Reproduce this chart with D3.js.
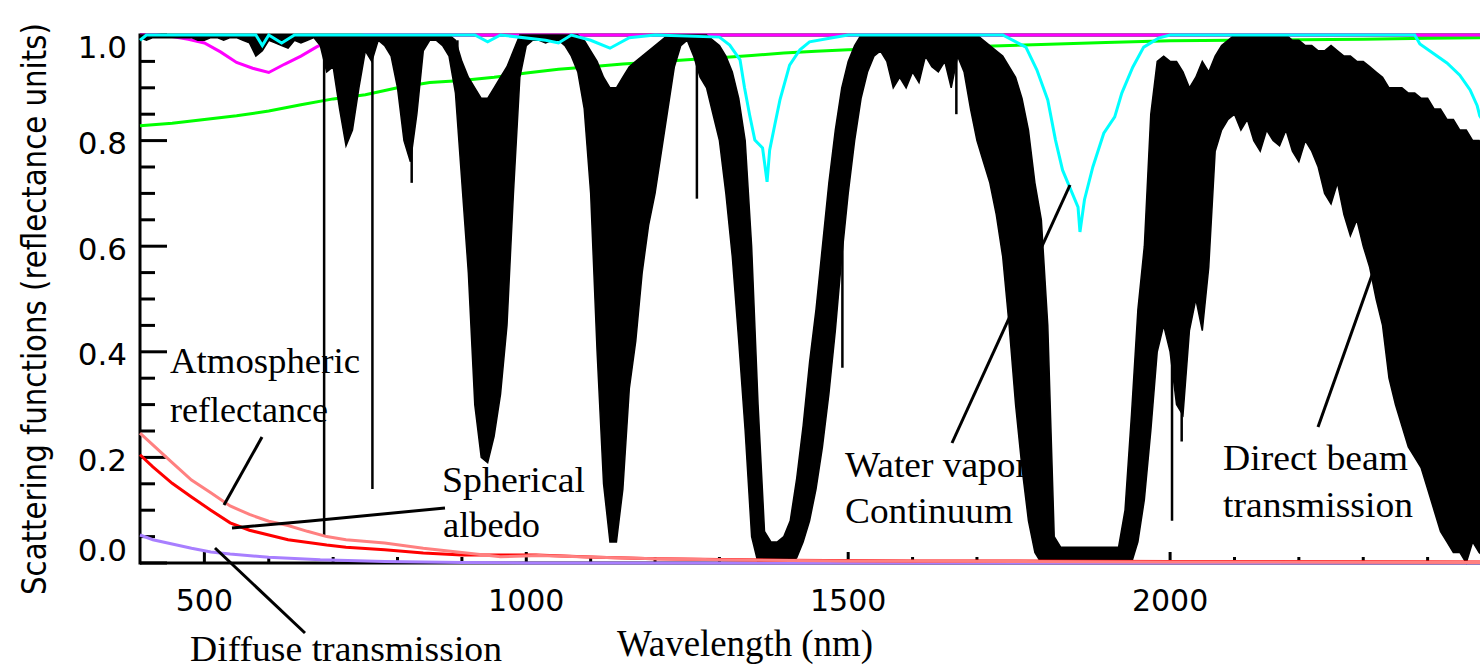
<!DOCTYPE html>
<html>
<head>
<meta charset="utf-8">
<script src="https://cdn.jsdelivr.net/npm/d3@7/dist/d3.min.js"></script>
<style>
  body { margin: 0; background: #fff; }
  svg { display: block; }
</style>
</head>
<body>
<div id="chart"></div>
<script>
// direct beam transmission, read as upper / lower envelope every 10 nm from 400 nm
var beamStart = 400, beamStep = 10;
var beamTop = [
  1,1,1,1,1,1,1,1,1,1,
  1,1,1,1,1,1,1,1,1,1,
  1,1,1,1,1,1,1,1,1,1,
  1,1,1,1,1,1,1,1,1,1,
  1,1,1,1,1,1,1,1,1,0.99,
  0.95,0.92,0.90,0.88,0.88,0.90,0.92,0.94,0.97,1,
  1,1,1,1,1,1,1,1,1,0.99,
  0.97,0.95,0.92,0.90,0.90,0.92,0.94,0.95,0.96,0.97,
  0.98,0.99,1,1,1,1,1,1,1,0.99,
  0.98,0.96,0.93,0.88,0.80,0.60,0.30,0.06,0.04,0.04,
  0.05,0.08,0.16,0.26,0.38,0.48,0.60,0.72,0.82,0.90,
  0.95,0.98,1,1,1,1,1,1,1,1,
  1,1,1,1,1,1,1,1,1,1,
  1,0.99,0.98,0.97,0.96,0.94,0.92,0.88,0.82,0.72,
  0.65,0.45,0.05,0.03,0.03,0.03,0.03,0.03,0.03,0.03,
  0.03,0.03,0.03,0.10,0.28,0.48,0.60,0.85,0.95,0.96,
  0.95,0.95,0.93,0.90,0.92,0.95,0.93,0.96,0.98,0.99,
  1,1,1,1,1,1,1,1,1,0.99,
  0.99,0.98,0.98,0.97,0.97,0.98,0.97,0.96,0.96,0.95,
  0.95,0.94,0.93,0.92,0.90,0.90,0.90,0.89,0.89,0.88,
  0.88,0.86,0.86,0.84,0.84,0.82,0.82,0.80,0.80,0.78,0.78
];
var beamLow = [
  0.995,0.99,0.995,0.995,0.995,0.995,0.995,0.995,0.995,0.99,
  0.99,0.995,0.995,0.99,0.995,0.995,0.99,0.985,0.96,0.97,
  0.99,0.985,0.98,0.975,0.99,0.985,0.99,0.995,0.98,0.93,
  0.94,0.86,0.79,0.82,0.90,0.97,0.95,0.99,0.98,0.96,
  0.90,0.80,0.76,0.85,0.97,0.99,0.99,0.98,0.96,0.89,
  0.72,0.55,0.30,0.20,0.19,0.24,0.32,0.45,0.70,0.92,
  0.98,0.99,0.99,0.985,0.99,0.99,0.98,0.96,0.93,0.86,
  0.70,0.40,0.15,0.04,0.04,0.14,0.33,0.42,0.55,0.64,
  0.70,0.78,0.86,0.94,0.98,0.99,0.96,0.92,0.90,0.85,
  0.80,0.70,0.58,0.42,0.25,0.05,0,0,0,0,
  0,0,0.01,0.04,0.08,0.14,0.22,0.32,0.44,0.58,
  0.70,0.80,0.88,0.93,0.96,0.97,0.95,0.90,0.92,0.90,
  0.93,0.91,0.96,0.94,0.93,0.95,0.90,0.96,0.93,0.86,
  0.80,0.76,0.72,0.66,0.58,0.45,0.30,0.18,0.08,0.02,
  0,0,0,0,0,0,0,0,0,0,
  0,0,0,0,0,0.04,0.12,0.25,0.40,0.45,
  0.40,0.30,0.28,0.44,0.50,0.44,0.56,0.78,0.82,0.84,
  0.85,0.82,0.84,0.80,0.78,0.82,0.80,0.79,0.82,0.78,
  0.76,0.80,0.78,0.75,0.70,0.68,0.72,0.66,0.62,0.65,
  0.60,0.56,0.50,0.45,0.35,0.30,0.26,0.22,0.20,0.18,
  0.14,0.10,0.06,0.04,0.02,0.02,0,0.04,0.02,0.01,0
];
// narrow absorption lines of the direct beam [nm, lowest value]
var beamLines = [[686,0.05],[761,0.14],[822,0.72],[893,0.89],[1265,0.69],[1491,0.37],[1668,0.85],[2003,0.08],[2018,0.23]];

// smooth curves [nm, value]
var aerosolTrans = [[400,0.828],[450,0.833],[500,0.840],[550,0.847],[600,0.856],[650,0.868],[700,0.879],[750,0.887],[800,0.900],
  [850,0.910],[900,0.914],[950,0.920],[1000,0.928],[1050,0.935],[1100,0.940],[1150,0.945],[1200,0.949],[1250,0.953],[1300,0.957],
  [1350,0.961],[1400,0.966],[1450,0.969],[1500,0.972],[1600,0.975],[1700,0.978],[1800,0.982],[1900,0.986],[2000,0.989],
  [2100,0.990],[2200,0.991],[2300,0.992],[2400,0.994],[2500,0.995]];
var ozoneTrans = [[400,1],[425,1],[450,0.997],[475,0.992],[500,0.985],[525,0.968],[550,0.948],[575,0.937],[600,0.929],
  [625,0.945],[650,0.960],[675,0.978],[700,0.990],[725,0.997],[750,1],[2500,1]];
var waterContinuum = [[400,0.99],[410,1],[580,1],[590,0.98],[600,1],[620,0.985],[640,1],[920,1],[940,0.987],[960,1],
  [1030,0.99],[1050,0.985],[1070,1],[1100,0.99],[1130,0.975],[1160,0.995],[1200,1],[1300,0.996],[1316,0.981],[1332,0.953],
  [1339,0.9],[1347,0.848],[1355,0.801],[1367,0.786],[1374,0.722],[1378,0.782],[1386,0.83],[1394,0.877],[1409,0.943],
  [1425,0.972],[1440,0.987],[1471,0.994],[1500,1],[1740,1],[1776,0.977],[1793,0.934],[1810,0.877],[1822,0.801],
  [1833,0.744],[1844,0.712],[1857,0.674],[1860,0.627],[1867,0.688],[1880,0.75],[1897,0.814],[1914,0.845],[1925,0.89],
  [1942,0.939],[1959,0.977],[1982,0.994],[2000,1],[2380,1],[2388,0.983],[2430,0.947],[2450,0.924],[2466,0.896],
  [2477,0.866],[2481,0.847],[2500,0.81]];
var atmReflectance = [[400,0.246],[450,0.19],[480,0.157],[510,0.133],[540,0.108],[570,0.092],[600,0.079],[630,0.071],
  [660,0.06],[690,0.05],[720,0.044],[780,0.038],[840,0.028],[900,0.02],[960,0.012],[1020,0.014],[1110,0.011],
  [1200,0.008],[1300,0.006],[1500,0.004],[2000,0.002],[2500,0.001]];
var sphericalAlbedo = [[400,0.205],[420,0.182],[450,0.151],[480,0.125],[510,0.10],[540,0.076],[570,0.062],[600,0.053],
  [630,0.044],[690,0.034],[720,0.03],[780,0.025],[840,0.019],[900,0.015],[1015,0.015],[1110,0.011],[1200,0.008],
  [1400,0.005],[1600,0.004],[2000,0.003],[2500,0.002]];
var diffuseTrans = [[400,0.053],[420,0.044],[480,0.028],[510,0.021],[540,0.017],[600,0.011],[680,0.006],[780,0.003],
  [900,0.001],[1000,0],[2500,0]];

var xTicks = [500, 1000, 1500, 2000];
var yTicks = [0, 0.2, 0.4, 0.6, 0.8, 1.0];

var width = 1480, height = 670;
var x = d3.scaleLinear().domain([400, 2500]).range([140, 1492]);
var y = d3.scaleLinear().domain([0, 1]).range([563, 35]);

var svg = d3.select('#chart').append('svg')
  .attr('width', width).attr('height', height);

// frame
svg.append('line').attr('x1', 140).attr('x2', width).attr('y1', y(1)).attr('y2', y(1))
  .attr('stroke', '#000').attr('stroke-width', 3);
svg.append('line').attr('x1', 140).attr('x2', width).attr('y1', y(0)).attr('y2', y(0))
  .attr('stroke', '#000').attr('stroke-width', 3);
svg.append('line').attr('x1', 140).attr('x2', 140).attr('y1', y(1) - 1.5).attr('y2', y(0) + 1.5)
  .attr('stroke', '#000').attr('stroke-width', 3);

// y ticks, inward
var yMinor = d3.range(0, 1.0001, 0.05);
svg.selectAll('.ytick').data(yMinor).enter().append('line')
  .attr('x1', 140).attr('x2', function(d) { return Math.abs(d * 5 - Math.round(d * 5)) < 1e-6 ? 167 : 155; })
  .attr('y1', function(d) { return y(d); }).attr('y2', function(d) { return y(d); })
  .attr('stroke', '#000').attr('stroke-width', 3);
svg.selectAll('.ylab').data(yTicks).enter().append('text')
  .attr('x', 127)
  .attr('y', function(d) { return y(d) + (d === 1 ? 12 : d === 0 ? -13 : 2.5); })
  .attr('dy', '0.36em')
  .attr('text-anchor', 'end')
  .style('font-family', 'DejaVu Sans, sans-serif')
  .style('font-size', '31px')
  .text(function(d) { return d.toFixed(1); });

// x ticks, inward
var xMinor = d3.range(500, 2500, 100);
svg.selectAll('.xtick').data(xMinor).enter().append('line')
  .attr('x1', function(d) { return x(d); }).attr('x2', function(d) { return x(d); })
  .attr('y1', y(0)).attr('y2', function(d) { return y(0) - (d % 500 === 0 ? 11 : 6); })
  .attr('stroke', '#000').attr('stroke-width', 3);
svg.selectAll('.xlab').data(xTicks).enter().append('text')
  .attr('x', function(d) { return x(d); })
  .attr('y', 600).attr('dy', '0.36em')
  .attr('text-anchor', 'middle')
  .style('font-family', 'DejaVu Sans, sans-serif')
  .style('font-size', '30px')
  .text(function(d) { return d; });

// axis titles (y title squeezed horizontally to fit the axis height)
var yTitle = svg.append('text')
  .style('font-family', 'DejaVu Sans, sans-serif').style('font-size', '34px')
  .text('Scattering functions (reflectance units)');
var yTitleLen = yTitle.node().getComputedTextLength();
yTitle.attr('transform', 'translate(46,595) rotate(-90) scale(' + (572 / yTitleLen) + ',1)');
svg.append('text')
  .attr('x', 617).attr('y', 656)
  .attr('textLength', 256).attr('lengthAdjust', 'spacingAndGlyphs')
  .style('font-family', 'Liberation Serif, serif').style('font-size', '37px')
  .text('Wavelength (nm)');

var line = d3.line().x(function(d) { return x(d[0]); }).y(function(d) { return y(d[1]); });

function drawCurve(data, color) {
  svg.append('path').datum(data)
    .attr('d', line)
    .attr('fill', 'none')
    .attr('stroke', color)
    .attr('stroke-width', 3)
    .attr('stroke-linejoin', 'miter');
}

drawCurve(aerosolTrans, '#00ff00');
drawCurve(ozoneTrans, '#ff00ff');

// direct beam: filled envelope plus narrow lines
var beam = beamTop.map(function(t, i) {
  return { nm: beamStart + i * beamStep, top: t, low: beamLow[i] };
});
var area = d3.area()
  .x(function(d) { return x(d.nm); })
  .y0(function(d) { return y(d.low); })
  .y1(function(d) { return y(d.top); });
svg.append('path').datum(beam)
  .attr('d', area)
  .attr('fill', '#000')
  .attr('stroke', '#000')
  .attr('stroke-width', 1.5);
svg.selectAll('.bline').data(beamLines).enter().append('line')
  .attr('x1', function(d) { return x(d[0]); }).attr('x2', function(d) { return x(d[0]); })
  .attr('y1', function(d) { return y(beamTop[Math.round((d[0] - beamStart) / beamStep)]); })
  .attr('y2', function(d) { return y(d[1]); })
  .attr('stroke', '#000').attr('stroke-width', 2.5);

drawCurve(waterContinuum, '#00ffff');
drawCurve(diffuseTrans, '#a87fff');
drawCurve(sphericalAlbedo, '#ff0000');
drawCurve(atmReflectance, '#ff8080');

// annotations
var notes = [
  { t: 'Atmospheric', x: 170, y: 373, w: 190 },
  { t: 'reflectance', x: 170, y: 422, w: 158 },
  { t: 'Spherical', x: 442, y: 492, w: 143 },
  { t: 'albedo', x: 443, y: 537, w: 97 },
  { t: 'Diffuse transmission', x: 190, y: 661, w: 312 },
  { t: 'Water vapor', x: 845, y: 477, w: 183 },
  { t: 'Continuum', x: 845, y: 523, w: 168 },
  { t: 'Direct beam', x: 1223, y: 470, w: 185 },
  { t: 'transmission', x: 1223, y: 517, w: 190 }
];
svg.selectAll('.note').data(notes).enter().append('text')
  .attr('x', function(d) { return d.x; }).attr('y', function(d) { return d.y; })
  .attr('textLength', function(d) { return d.w; }).attr('lengthAdjust', 'spacingAndGlyphs')
  .style('font-family', 'Liberation Serif, serif').style('font-size', '36px')
  .text(function(d) { return d.t; });

var pointers = [
  [[262, 437], [224, 505]],
  [[232, 528], [310, 521], [445, 508]],
  [[215, 548], [305, 633]],
  [[952, 443], [1070, 185]],
  [[1318, 427], [1393, 216]]
];
svg.selectAll('.ptr').data(pointers).enter().append('path')
  .attr('d', d3.line())
  .attr('fill', 'none').attr('stroke', '#000').attr('stroke-width', 3);
</script>
</body>
</html>
